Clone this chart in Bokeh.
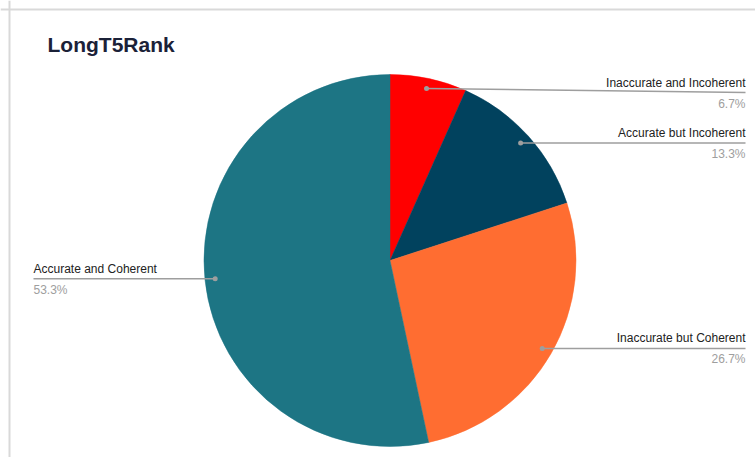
import math
from bokeh.plotting import figure
from bokeh.models import Range1d, Span
from bokeh.core.properties import value
from bokeh.embed import file_html
from bokeh.resources import INLINE

# ---- data ----
title = "LongT5Rank"
categories = ["Inaccurate and Incoherent", "Accurate but Incoherent",
              "Inaccurate but Coherent", "Accurate and Coherent"]
values = [1, 2, 4, 8]
colors = ["#ff0000", "#01425e", "#ff6d31", "#1d7584"]

# ---- layout (pixel-like data units, y measured from the bottom) ----
W, H = 755, 457
cx, cy, r = 389.5, H - 260, 186
dot_frac = 0.945
label_angle_override = [None, None, None, 264]   # degrees clockwise from top
label_nudge = [-4, 0, 0, 0]                       # leader end offset (px, up +)
right_x, left_x = 745, 33
FONT = value("Liberation Sans")

p = figure(width=W, height=H, x_range=Range1d(0, W), y_range=Range1d(0, H),
           min_border=0, toolbar_location=None, output_backend="svg")
p.axis.visible = False
p.grid.visible = False
p.outline_line_color = None
p.background_fill_color = "white"
p.border_fill_color = "white"

# card border
p.add_layout(Span(location=9, dimension="height", line_color="#d9d9d9", line_width=2))
p.add_layout(Span(location=H - 9, dimension="width", line_color="#d9d9d9", line_width=2))

total = sum(values)
cum = 0
starts, ends = [], []
for v in values:
    starts.append(math.radians(90 - cum / total * 360))
    cum += v
    ends.append(math.radians(90 - cum / total * 360))

p.wedge(x=[cx] * len(values), y=[cy] * len(values), radius=r,
        start_angle=starts, end_angle=ends, direction="clock",
        fill_color=colors, line_color=colors, line_width=0.5)

# labels with leader lines
cum = 0
for i, (cat, v) in enumerate(zip(categories, values)):
    mid = (cum + v / 2) / total * 360
    cum += v
    ang = label_angle_override[i] if label_angle_override[i] is not None else mid
    a = math.radians(ang)
    dx = cx + dot_frac * r * math.sin(a)
    dy = cy + dot_frac * r * math.cos(a)
    ly = dy + label_nudge[i]
    pct = f"{v / total * 100:.1f}%"
    if dx >= cx:
        ex, align = right_x, "right"
    else:
        ex, align = left_x, "left"
    p.line([dx, ex], [dy, ly], line_color="#9e9e9e", line_width=1.5)
    p.scatter([dx], [dy], size=5, fill_color="#9e9e9e", line_color=None)
    p.text([ex], [ly + 3], text=[cat], text_align=align, text_baseline="bottom",
           text_font_size="12px", text_color="#222222", text_font=FONT)
    p.text([ex], [ly - 4], text=[pct], text_align=align, text_baseline="top",
           text_font_size="12px", text_color="#9e9e9e", text_font=FONT)

p.text([47], [H - 44], text=[title], text_align="left", text_baseline="middle",
       text_font_size="21px", text_font_style="bold", text_color="#1b2138",
       text_font=FONT)

open("out.html", "w").write(file_html(p, INLINE))
